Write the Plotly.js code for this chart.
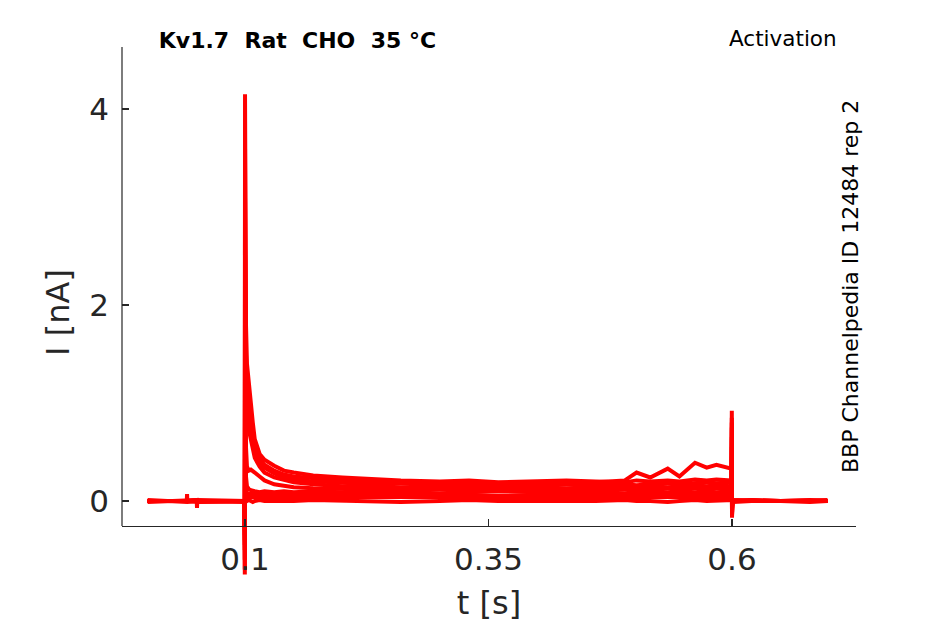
<!DOCTYPE html>
<html>
<head>
<meta charset="utf-8">
<script src="https://cdn.plot.ly/plotly-3.0.1.min.js"></script>
<style>html,body{margin:0;padding:0;background:#fff;}#chart{width:945px;height:624px;}</style>
</head>
<body>
<div id="chart"></div>
<script>
// time points [s]
var time = [0, 0.0402, 0.0405, 0.0408, 0.0504, 0.0507, 0.051, 0.0995, 0.0998, 0.1,
  0.1005, 0.101, 0.102, 0.104, 0.106, 0.108, 0.11, 0.115, 0.12, 0.13,
  0.14, 0.15, 0.17, 0.2, 0.23, 0.26, 0.3, 0.33, 0.36, 0.4,
  0.43, 0.46, 0.49, 0.502, 0.516, 0.534, 0.546, 0.562, 0.574, 0.584,
  0.5995, 0.5998, 0.6, 0.6005, 0.602, 0.62, 0.65, 0.68, 0.698];

// current sweeps [nA]
var sweep1 = [0.00, 0.00, 0.07, 0.00, 0.01, -0.07, 0.00, 0.00, -0.75, 4.15,
  2.60, 1.80, 1.40, 1.15, 1.00, 0.80, 0.63, 0.48, 0.42, 0.36,
  0.31, 0.29, 0.26, 0.24, 0.22, 0.21, 0.20, 0.21, 0.19, 0.20,
  0.21, 0.20, 0.19, 0.21, 0.20, 0.21, 0.20, 0.22, 0.21, 0.22,
  0.21, 0.92, -0.17, 0.01, 0.00, 0.01, 0.00, 0.01, 0.00];
var sweep2 = [0.00, 0.00, 0.00, 0.01, 0.00, 0.00, -0.01, 0.00, -0.70, 3.60,
  2.20, 1.50, 1.15, 0.95, 0.82, 0.68, 0.55, 0.43, 0.37, 0.31,
  0.27, 0.25, 0.23, 0.21, 0.20, 0.19, 0.18, 0.19, 0.18, 0.19,
  0.18, 0.19, 0.21, 0.29, 0.24, 0.33, 0.25, 0.39, 0.34, 0.37,
  0.33, 0.85, -0.15, 0.01, 0.00, 0.00, 0.01, 0.00, 0.00];
var sweep3 = [0.00, -0.01, 0.00, 0.00, 0.01, 0.00, 0.00, -0.01, -0.60, 3.10,
  1.90, 1.30, 1.00, 0.85, 0.72, 0.60, 0.50, 0.40, 0.34, 0.28,
  0.24, 0.22, 0.20, 0.18, 0.17, 0.18, 0.17, 0.16, 0.17, 0.16,
  0.17, 0.16, 0.17, 0.16, 0.17, 0.18, 0.17, 0.18, 0.19, 0.18,
  0.19, 0.80, -0.14, 0.00, 0.01, 0.00, 0.00, -0.01, 0.00];
var sweep4 = [0.01, 0.00, 0.00, -0.01, 0.00, 0.00, 0.01, 0.00, -0.50, 2.50,
  1.50, 1.05, 0.85, 0.72, 0.62, 0.52, 0.44, 0.35, 0.29, 0.24,
  0.21, 0.19, 0.17, 0.15, 0.15, 0.14, 0.15, 0.14, 0.15, 0.14,
  0.13, 0.14, 0.15, 0.14, 0.15, 0.14, 0.15, 0.16, 0.15, 0.16,
  0.15, 0.75, -0.12, 0.01, 0.00, 0.00, 0.00, 0.01, 0.00];
var sweep5 = [0.00, 0.00, -0.01, 0.00, 0.00, 0.01, 0.00, 0.00, -0.45, 1.80,
  0.90, 0.55, 0.35, 0.31, 0.32, 0.31, 0.29, 0.25, 0.21, 0.17,
  0.15, 0.14, 0.13, 0.12, 0.12, 0.11, 0.12, 0.11, 0.12, 0.11,
  0.12, 0.11, 0.12, 0.11, 0.12, 0.13, 0.12, 0.13, 0.12, 0.13,
  0.12, 0.65, -0.10, 0.00, 0.00, -0.01, 0.00, 0.00, 0.00];
var sweep6 = [0.00, 0.01, 0.00, 0.00, -0.01, 0.00, 0.00, 0.00, -0.40, 1.20,
  0.45, 0.25, 0.15, 0.12, 0.11, 0.10, 0.10, 0.09, 0.10, 0.09,
  0.10, 0.09, 0.10, 0.09, 0.10, 0.09, 0.08, 0.09, 0.10, 0.09,
  0.10, 0.09, 0.08, 0.09, 0.10, 0.09, 0.10, 0.09, 0.10, 0.09,
  0.10, 0.55, -0.08, 0.00, 0.01, 0.00, 0.00, 0.00, 0.01];
var sweep7 = [-0.01, 0.00, 0.00, 0.00, 0.00, 0.00, 0.01, 0.00, -0.35, 0.90,
  0.25, 0.12, 0.08, 0.07, 0.08, 0.07, 0.07, 0.08, 0.07, 0.06,
  0.07, 0.06, 0.07, 0.06, 0.07, 0.06, 0.07, 0.06, 0.05, 0.06,
  0.07, 0.06, 0.07, 0.06, 0.07, 0.06, 0.07, 0.06, 0.07, 0.06,
  0.07, 0.45, -0.06, 0.00, 0.00, 0.00, 0.01, 0.00, 0.00];
var sweep8 = [0.00, 0.00, 0.01, 0.00, 0.00, -0.01, 0.00, 0.00, -0.30, 0.70,
  0.15, 0.06, 0.04, 0.04, 0.03, 0.04, 0.04, 0.03, 0.04, 0.03,
  0.04, 0.03, 0.04, 0.03, 0.04, 0.03, 0.04, 0.03, 0.04, 0.03,
  0.04, 0.03, 0.04, 0.03, 0.04, 0.03, 0.04, 0.03, 0.04, 0.03,
  0.04, 0.35, -0.05, 0.00, -0.01, 0.00, 0.00, 0.00, 0.00];
var sweep9 = [0.00, 0.00, 0.00, 0.00, 0.01, 0.00, -0.01, 0.00, -0.25, 0.50,
  0.08, 0.01, 0.00, 0.01, 0.00, -0.01, 0.00, 0.01, 0.00, 0.00,
  -0.01, 0.00, 0.01, 0.00, 0.00, -0.01, 0.00, 0.01, 0.00, 0.00,
  -0.01, 0.00, 0.01, 0.00, 0.00, -0.01, 0.00, 0.01, 0.00, 0.00,
  0.01, 0.30, -0.04, 0.00, 0.00, 0.01, 0.00, 0.00, 0.00];

var sweeps = [sweep1, sweep2, sweep3, sweep4, sweep5, sweep6, sweep7, sweep8, sweep9];

var xTicks = [0.1, 0.35, 0.6];
var xTickText = ['0.1', '0.35', '0.6'];
var yTicks = [0, 2, 4];
var yTickText = ['0', '2', '4'];

var titleText = 'Kv1.7  Rat  CHO  35 °C';
var protocolText = 'Activation';
var sourceText = 'BBP Channelpedia ID 12484 rep 2';

var traces = sweeps.map(function (s, i) {
  return {
    x: time, y: s, type: 'scatter', mode: 'lines',
    line: {color: '#ff0000', width: 4},
    name: 'sweep ' + (i + 1), showlegend: false, hoverinfo: 'skip'
  };
});

var FONT = 'DejaVu Sans, sans-serif';
var TXT = '#262626';
var yBottom = -0.255, yTop = 4.633;

var layout = {
  width: 945, height: 624,
  margin: {l: 122, r: 89, t: 47, b: 46},
  paper_bgcolor: '#ffffff', plot_bgcolor: '#ffffff',
  showlegend: false,
  title: {
    text: titleText, x: 0.239, xref: 'paper', xanchor: 'center',
    y: 1 - 40 / 624, yref: 'container', yanchor: 'middle',
    font: {family: FONT, size: 22, color: '#000000', weight: 'bold'}
  },
  xaxis: {
    range: [-0.0263, 0.7273], anchor: 'free', position: 0.0979,
    tickvals: xTicks, ticktext: xTickText,
    ticks: 'inside', ticklen: 7, tickwidth: 1.2, tickcolor: TXT,
    showline: true, linecolor: TXT, linewidth: 1.2,
    showgrid: false, zeroline: false, ticklabelstandoff: 6,
    tickfont: {family: FONT, size: 31, color: TXT},
    title: {text: 't [s]', font: {family: FONT, size: 32, color: TXT}, standoff: 15}
  },
  yaxis: {
    range: [-0.786, 4.633],
    tickvals: yTicks, ticktext: yTickText,
    ticks: 'inside', ticklen: 7, tickwidth: 1.2, tickcolor: TXT,
    showline: false, showgrid: false, zeroline: false, ticklabelstandoff: 12,
    tickfont: {family: FONT, size: 31, color: TXT},
    title: {text: 'I [nA]', font: {family: FONT, size: 32, color: TXT}, standoff: 10}
  },
  shapes: [{
    type: 'line', xref: 'paper', yref: 'y', x0: 0, x1: 0, y0: yBottom, y1: yTop,
    line: {color: TXT, width: 1.2}
  }],
  annotations: [
    {text: protocolText, xref: 'paper', yref: 'paper', x: 0.900, y: 1.0169,
     xanchor: 'center', yanchor: 'middle', showarrow: false,
     font: {family: FONT, size: 21.5, color: '#000000'}},
    {text: sourceText, xref: 'paper', yref: 'paper', x: 0.9918, y: 0.5499,
     xanchor: 'center', yanchor: 'middle', showarrow: false, textangle: -90,
     font: {family: FONT, size: 22, color: '#000000'}}
  ]
};

Plotly.newPlot('chart', traces, layout, {displayModeBar: false, staticPlot: true});
</script>
</body>
</html>
